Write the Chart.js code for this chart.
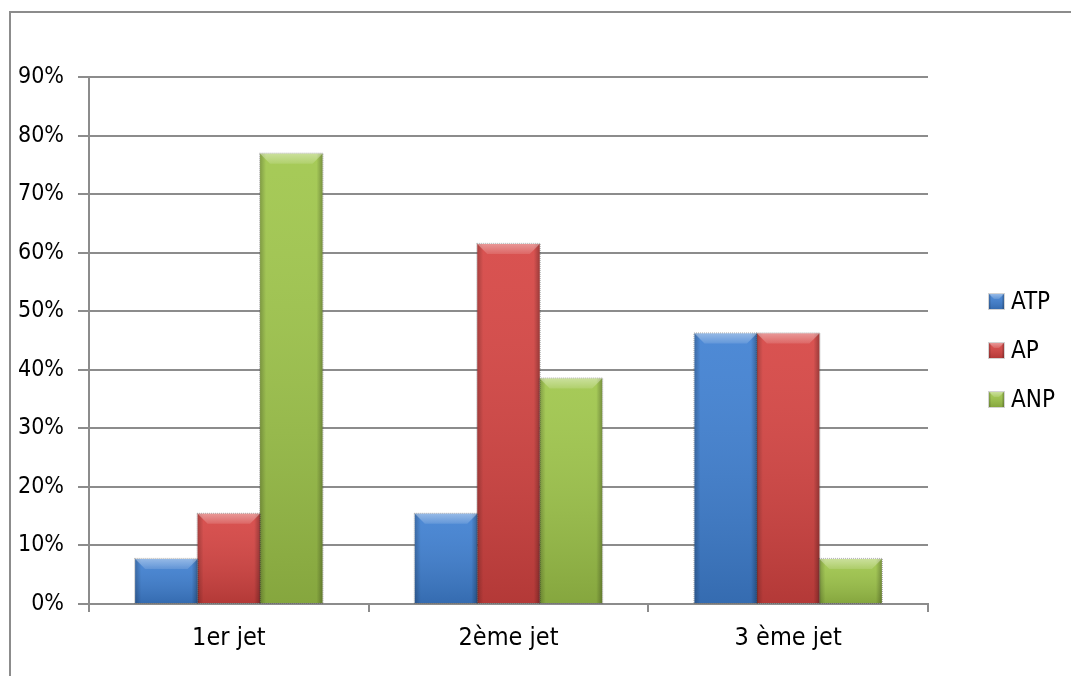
<!DOCTYPE html>
<html>
<head>
<meta charset="utf-8">
<script src="https://cdn.jsdelivr.net/npm/chart.js@4/dist/chart.umd.min.js"></script>
<style>
  html, body { margin: 0; padding: 0; background: #fff; }
  #wrap { position: relative; width: 1071px; height: 676px; overflow: hidden; }
  #frame { position: absolute; left: 9px; top: 11px; width: 2000px; height: 2000px;
           border-left: 2px solid #8c8c8c; border-top: 2px solid #8c8c8c; box-sizing: border-box; }
  canvas { position: absolute; left: 0; top: 0; }
</style>
</head>
<body>
<div id="wrap">
  <div id="frame"></div>
  <canvas id="c" width="1071" height="676"></canvas>
</div>
<script>
// Categories, series and axis ticks
const categories = ['1er jet', '2ème jet', '3 ème jet'];
const seriesNames = ['ATP', 'AP', 'ANP'];
const atpValues = [7.7, 15.4, 46.2];
const apValues = [15.4, 61.5, 46.2];
const anpValues = [76.9, 38.5, 7.7];
const yTickValues = [0, 10, 20, 30, 40, 50, 60, 70, 80, 90];

const seriesColors = ['#3f80d2', '#d64442', '#9fc64a'];
const FONT = "'DejaVu Sans Condensed', 'Liberation Sans Narrow', sans-serif";

// Glossy bevel drawn over each bar element
function bevel(ctx, left, top, w, h) {
  ctx.save();
  // shadow outline
  ctx.strokeStyle = 'rgba(60,60,60,0.45)';
  ctx.lineWidth = 1;
  ctx.setLineDash([1, 1]);
  ctx.strokeRect(left - 0.5, top - 0.5, w + 1, h + 1);
  ctx.setLineDash([]);
  // vertical shading, lighter top, darker bottom
  let g = ctx.createLinearGradient(0, top, 0, top + h);
  g.addColorStop(0, 'rgba(255,255,255,0.08)');
  g.addColorStop(1, 'rgba(0,0,0,0.16)');
  ctx.fillStyle = g;
  ctx.fillRect(left, top, w, h);
  // side edges
  const e = Math.min(6, w / 6);
  g = ctx.createLinearGradient(left, 0, left + e, 0);
  g.addColorStop(0, 'rgba(0,0,0,0.22)');
  g.addColorStop(1, 'rgba(0,0,0,0)');
  ctx.fillStyle = g;
  ctx.fillRect(left, top, e, h);
  g = ctx.createLinearGradient(left + w - e, 0, left + w, 0);
  g.addColorStop(0, 'rgba(0,0,0,0)');
  g.addColorStop(1, 'rgba(0,0,0,0.28)');
  ctx.fillStyle = g;
  ctx.fillRect(left + w - e, top, e, h);
  // top bevel highlight
  const b = Math.min(10, h / 3);
  ctx.beginPath();
  ctx.moveTo(left, top);
  ctx.lineTo(left + w, top);
  ctx.lineTo(left + w - b, top + b);
  ctx.lineTo(left + b, top + b);
  ctx.closePath();
  g = ctx.createLinearGradient(0, top, 0, top + b);
  g.addColorStop(0, 'rgba(255,255,255,0.40)');
  g.addColorStop(1, 'rgba(255,255,255,0.12)');
  ctx.fillStyle = g;
  ctx.fill();
  ctx.restore();
}

const bevelPlugin = {
  id: 'bevel',
  afterDatasetsDraw(chart) {
    const ctx = chart.ctx;
    chart.data.datasets.forEach((ds, i) => {
      chart.getDatasetMeta(i).data.forEach(el => {
        const p = el.getProps(['x', 'y', 'base', 'width'], true);
        const top = Math.min(p.y, p.base), h = Math.abs(p.base - p.y);
        bevel(ctx, p.x - p.width / 2, top, p.width, h);
      });
    });
  }
};

// Vertical legend on the right of the plot
const sideLegend = {
  id: 'sideLegend',
  afterDraw(chart) {
    const ctx = chart.ctx, a = chart.chartArea;
    const boxX = a.right + 61, textX = a.right + 83, box = 15, gap = 49;
    const midY = (a.top + a.bottom) / 2 + 10;
    ctx.save();
    ctx.font = '24px ' + FONT;
    ctx.textBaseline = 'middle';
    chart.data.datasets.forEach((ds, i) => {
      const cy = midY + (i - 1) * gap;
      ctx.fillStyle = ds.backgroundColor;
      ctx.fillRect(boxX, cy - box / 2, box, box);
      bevel(ctx, boxX, cy - box / 2, box, box);
      ctx.fillStyle = '#000';
      ctx.fillText(ds.label, textX, cy + 1);
    });
    ctx.restore();
  }
};

const valueSets = [atpValues, apValues, anpValues];

new Chart(document.getElementById('c'), {
  type: 'bar',
  data: {
    labels: categories,
    datasets: seriesNames.map((name, i) => ({
      label: name,
      data: valueSets[i],
      backgroundColor: seriesColors[i],
      borderWidth: 0,
      categoryPercentage: 0.67,
      barPercentage: 1.0
    }))
  },
  options: {
    responsive: false,
    animation: false,
    devicePixelRatio: 1,
    layout: { padding: { left: 10, top: 77, right: 143, bottom: 0 } },
    plugins: { legend: { display: false }, tooltip: { enabled: false } },
    scales: {
      x: {
        afterFit(s) { s.height = 72; },
        grid: { drawOnChartArea: false, drawTicks: true, tickLength: 8, offset: true,
                color: '#8c8c8c', lineWidth: 2 },
        border: { display: true, color: '#8c8c8c', width: 2 },
        ticks: { color: '#000', font: { family: FONT, size: 25 }, padding: 11 }
      },
      y: {
        min: 0, max: 90,
        afterFit(s) { s.width = 79; },
        afterBuildTicks(s) { s.ticks = yTickValues.map(v => ({ value: v })); },
        grid: { color: '#8c8c8c', lineWidth: 2, tickLength: 11, drawTicks: true },
        border: { display: true, color: '#8c8c8c', width: 2 },
        ticks: { color: '#000', font: { family: FONT, size: 23 }, padding: 14,
                 callback: v => v + '%' }
      }
    }
  },
  plugins: [bevelPlugin, sideLegend]
});
</script>
</body>
</html>
